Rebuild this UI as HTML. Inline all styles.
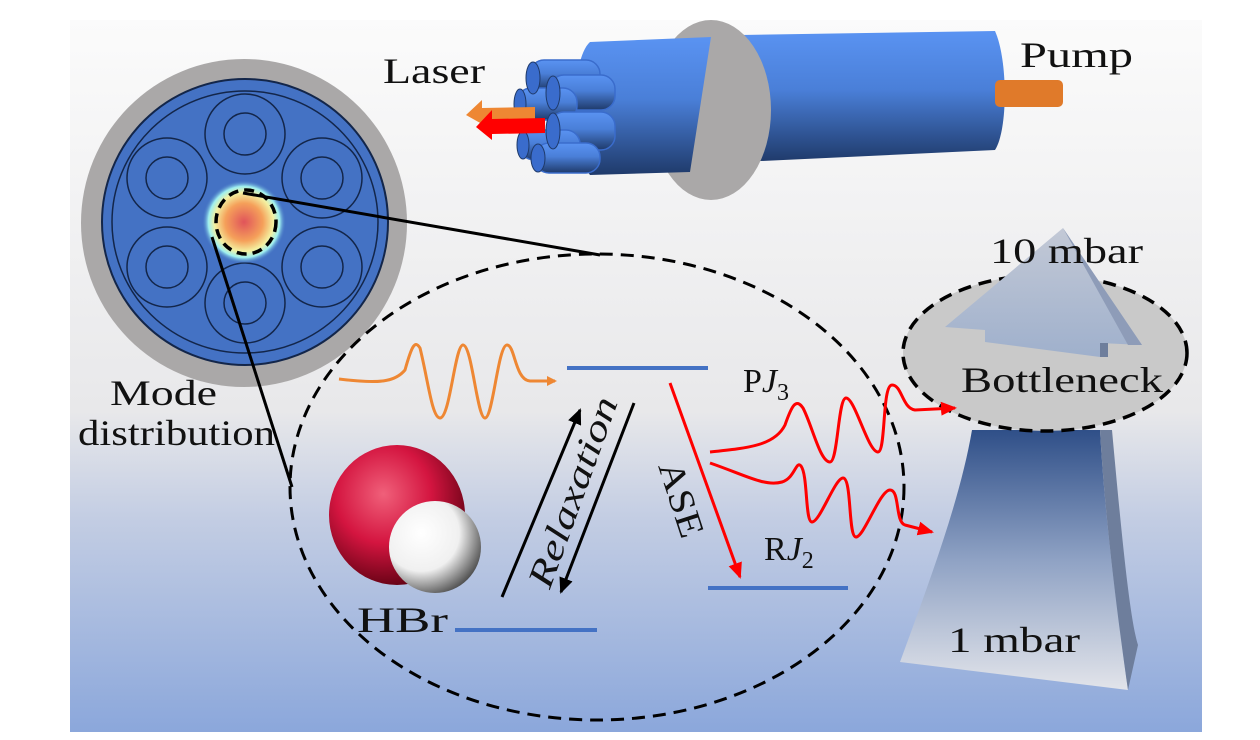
<!DOCTYPE html>
<html><head><meta charset="utf-8"><style>
html,body{margin:0;padding:0;background:#fff;}
svg{display:block;}
text{font-family:"Liberation Serif",serif;fill:#111;}
</style></head><body>
<svg width="1260" height="740" viewBox="0 0 1260 740" xmlns="http://www.w3.org/2000/svg">
<defs>
<linearGradient id="bg" x1="0" y1="0" x2="0" y2="1">
<stop offset="0" stop-color="#fbfbfb"/><stop offset="0.55" stop-color="#e8e8ea"/><stop offset="0.7" stop-color="#c3cde3"/><stop offset="1" stop-color="#8ba7db"/></linearGradient>
<radialGradient id="glow" cx="0.5" cy="0.5" r="0.5">
<stop offset="0" stop-color="#e0545a"/><stop offset="0.45" stop-color="#f5a05a"/><stop offset="0.7" stop-color="#f4f0a0"/><stop offset="0.85" stop-color="#9ff0f0"/><stop offset="1" stop-color="#4472c4" stop-opacity="0"/></radialGradient>
<linearGradient id="cyl" x1="0" y1="0" x2="0" y2="1">
<stop offset="0" stop-color="#5a93f2"/><stop offset="0.45" stop-color="#4a7fd8"/><stop offset="1" stop-color="#1f3a6a"/></linearGradient>
<radialGradient id="red" cx="0.4" cy="0.35" r="0.7">
<stop offset="0" stop-color="#f0607a"/><stop offset="0.5" stop-color="#d41540"/><stop offset="1" stop-color="#5a0010"/></radialGradient>
<radialGradient id="white" cx="0.35" cy="0.35" r="0.75">
<stop offset="0" stop-color="#ffffff"/><stop offset="0.55" stop-color="#f0f0f0"/><stop offset="1" stop-color="#3a3a3a"/></radialGradient>
<linearGradient id="trunk" x1="0" y1="0" x2="0" y2="1">
<stop offset="0" stop-color="#2f4f88"/><stop offset="0.5" stop-color="#8fa2c4"/><stop offset="1" stop-color="#e2e4ea"/></linearGradient>
<linearGradient id="head" x1="0" y1="0" x2="0" y2="1">
<stop offset="0" stop-color="#c3c9d6"/><stop offset="1" stop-color="#9fb0cc"/></linearGradient>
<marker id="ao" markerWidth="10" markerHeight="10" refX="8" refY="5" orient="auto" markerUnits="userSpaceOnUse"><path d="M0,0 L10,5 L0,10 z" fill="#ee8733"/></marker>
<marker id="ar" markerWidth="16" markerHeight="14" refX="14" refY="7" orient="auto" markerUnits="userSpaceOnUse"><path d="M0,0 L16,7 L0,14 z" fill="#f00"/></marker>
<marker id="ak" markerWidth="16" markerHeight="14" refX="14" refY="7" orient="auto" markerUnits="userSpaceOnUse"><path d="M0,0 L16,7 L0,14 z" fill="#000"/></marker>
</defs>
<rect x="70" y="20" width="1132" height="712" fill="url(#bg)"/>

<!-- fiber cross section -->
<ellipse cx="244" cy="223" rx="163" ry="164" fill="#aaa8a8"/>
<ellipse cx="245" cy="222" rx="143" ry="143" fill="#4472c4" stroke="#13264a" stroke-width="2"/>
<ellipse cx="245" cy="222" rx="133" ry="131" fill="none" stroke="#13264a" stroke-width="1.5"/>
<g fill="none" stroke="#13264a" stroke-width="1.5">
<circle cx="245" cy="134" r="40"/><circle cx="245" cy="134" r="21"/>
<circle cx="167" cy="178" r="40"/><circle cx="167" cy="178" r="21"/>
<circle cx="322" cy="178" r="40"/><circle cx="322" cy="178" r="21"/>
<circle cx="167" cy="267" r="40"/><circle cx="167" cy="267" r="21"/>
<circle cx="322" cy="267" r="40"/><circle cx="322" cy="267" r="21"/>
<circle cx="245" cy="303" r="40"/><circle cx="245" cy="303" r="21"/>
</g>
<circle cx="244" cy="222" r="42" fill="url(#glow)"/>
<ellipse cx="246" cy="222" rx="30" ry="32" fill="none" stroke="#000" stroke-width="3.5" stroke-dasharray="10,6"/>
<line x1="243" y1="193" x2="600" y2="255" stroke="#000" stroke-width="3"/>
<line x1="212" y1="237" x2="292" y2="487" stroke="#000" stroke-width="3"/>

<!-- cylinder -->
<path d="M740,35 L995,31 C1008,60 1008,130 995,150 L740,162 Z" fill="url(#cyl)"/>
<ellipse cx="711" cy="110" rx="60" ry="90" fill="#aaa8a8"/>
<path d="M590,42 L711,37 L690,172 L590,175 C570,150 570,60 590,42z" fill="url(#cyl)"/>
<rect x="995" y="80" width="68" height="27" rx="5" fill="#e07a2a"/>
<g fill="url(#cyl)" stroke="#3a6ccc" stroke-width="1.5">
<rect x="530" y="60" width="70" height="30" rx="14"/>
<rect x="550" y="75" width="65" height="35" rx="14"/>
<rect x="517" y="88" width="60" height="32" rx="14"/>
<rect x="550" y="112" width="65" height="38" rx="14"/>
<rect x="520" y="130" width="60" height="30" rx="14"/>
<rect x="535" y="143" width="65" height="30" rx="14"/>
</g>
<g fill="#3a6ccc" stroke="#1f3a6a"><ellipse cx="533" cy="78" rx="7" ry="16"/><ellipse cx="553" cy="93" rx="7" ry="17"/><ellipse cx="520" cy="104" rx="6" ry="15"/><ellipse cx="553" cy="131" rx="7" ry="18"/><ellipse cx="523" cy="145" rx="6" ry="14"/><ellipse cx="538" cy="158" rx="7" ry="14"/></g>
<path d="M535,107 L482,108 L482,100 L466,115 L482,124 L482,122 L535,120z" fill="#ee8733"/>
<path d="M545,118 L492,119 L492,110 L476,127 L492,140 L492,134 L545,133z" fill="#f00"/>
<text x="383" y="83" font-size="36" textLength="102" lengthAdjust="spacingAndGlyphs">Laser</text>
<text x="1020" y="67" font-size="36" textLength="113" lengthAdjust="spacingAndGlyphs">Pump</text>

<!-- bottleneck -->
<path d="M972,430 L1100,430 C1105,520 1118,620 1128,690 L900,662 C930,580 960,500 972,430z" fill="url(#trunk)"/>
<path d="M1100,430 L1112,430 C1122,540 1130,620 1138,645 L1128,690 C1118,620 1105,520 1100,430z" fill="#6e7e9c"/>
<ellipse cx="1045" cy="353" rx="142" ry="78" fill="#c9c9c9" stroke="#000" stroke-width="3.5" stroke-dasharray="13,8"/>
<path d="M1063,228 L945,327 L985,330 L985,342 L1100,357 L1100,343 L1142,345 Z" fill="url(#head)"/>
<path d="M1063,228 L1142,345 L1128,345 Z" fill="#8e9cb8"/>
<rect x="1100" y="343" width="8" height="14" fill="#6e7e9c"/>
<text x="990" y="263" font-size="36" textLength="153" lengthAdjust="spacingAndGlyphs">10 mbar</text>
<text x="961" y="392" font-size="36" textLength="202" lengthAdjust="spacingAndGlyphs">Bottleneck</text>
<text x="948" y="652" font-size="36" textLength="132" lengthAdjust="spacingAndGlyphs">1 mbar</text>

<!-- big dashed ellipse -->
<ellipse cx="597" cy="487" rx="307" ry="233" fill="none" stroke="#000" stroke-width="3" stroke-dasharray="13,8"/>

<text x="110" y="405" font-size="36" textLength="107" lengthAdjust="spacingAndGlyphs">Mode</text>
<text x="78" y="445" font-size="36" textLength="197" lengthAdjust="spacingAndGlyphs">distribution</text>

<!-- levels -->
<line x1="567" y1="368" x2="708" y2="368" stroke="#4472c4" stroke-width="4"/>
<line x1="455" y1="630" x2="597" y2="630" stroke="#4472c4" stroke-width="4"/>
<line x1="708" y1="588" x2="848" y2="588" stroke="#4472c4" stroke-width="4"/>

<!-- orange wave -->
<path d="M339,379 C380,384 395,382 405,370 C412,345 415,340 420,348 C428,380 432,418 440,418 C450,418 455,345 463,345 C472,345 477,418 485,418 C493,418 498,345 507,345 C515,345 515,380 530,381 L555,381" fill="none" stroke="#ee8733" stroke-width="3" marker-end="url(#ao)"/>

<!-- relaxation -->
<line x1="502" y1="597" x2="580" y2="410" stroke="#000" stroke-width="3" marker-end="url(#ak)"/>
<line x1="634" y1="403" x2="561" y2="592" stroke="#000" stroke-width="3" marker-end="url(#ak)"/>
<text x="0" y="0" font-size="36" font-style="italic" text-anchor="middle" textLength="200" lengthAdjust="spacingAndGlyphs" transform="translate(584,496) rotate(-70)">Relaxation</text>

<!-- ASE -->
<line x1="670" y1="383" x2="740" y2="577" stroke="#f00" stroke-width="3" marker-end="url(#ar)"/>
<text x="0" y="0" font-size="36" text-anchor="middle" textLength="78" lengthAdjust="spacingAndGlyphs" transform="translate(670,503) rotate(72)">ASE</text>
<text x="743" y="392" font-size="34">P<tspan font-style="italic">J</tspan><tspan font-size="24" dy="8">3</tspan></text>
<text x="764" y="560" font-size="34">R<tspan font-style="italic">J</tspan><tspan font-size="24" dy="8">2</tspan></text>

<!-- red waves -->
<path d="M710,452 C750,448 775,445 785,425 C792,405 796,398 803,408 C812,425 820,462 830,462 C838,462 838,398 846,398 C855,398 868,452 878,452 C886,452 882,385 892,385 C902,385 902,408 915,410 L955,408" fill="none" stroke="#f00" stroke-width="3" marker-end="url(#ar)"/>
<path d="M710,463 C745,475 765,487 782,482 C795,478 796,460 801,466 C808,475 805,522 812,522 C820,522 835,478 843,478 C852,478 848,537 856,537 C864,537 880,490 890,490 C900,490 895,522 905,525 L932,532" fill="none" stroke="#f00" stroke-width="3" marker-end="url(#ar)"/>

<!-- HBr -->
<ellipse cx="397" cy="515" rx="68" ry="70" fill="url(#red)"/>
<circle cx="435" cy="547" r="46" fill="url(#white)"/>
<text x="357" y="632" font-size="36" textLength="91" lengthAdjust="spacingAndGlyphs">HBr</text>
</svg>
</body></html>
